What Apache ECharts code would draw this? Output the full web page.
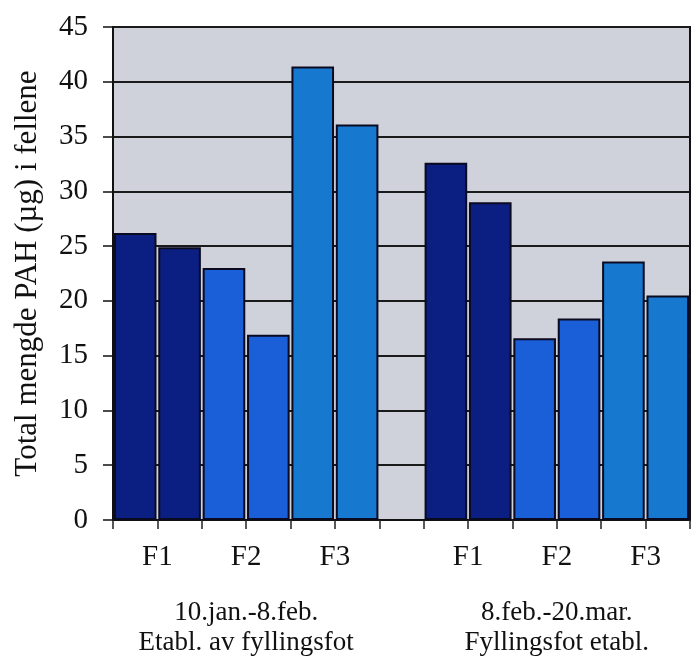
<!DOCTYPE html>
<html>
<head>
<meta charset="utf-8">
<script src="https://cdn.jsdelivr.net/npm/echarts@6/dist/echarts.min.js"></script>
<style>
html,body{margin:0;padding:0;background:#fff;}
#chart{width:693px;height:662px;}
</style>
</head>
<body>
<div id="chart"></div>
<script>
// Bar slots (13 slots; slot 6 is the empty gap between the two periods)
var slots = ['a1','a2','a3','a4','a5','a6','gap','b1','b2','b3','b4','b5','b6'];
var stations = ['F1','F1','F2','F2','F3','F3','','F1','F1','F2','F2','F3','F3'];
var values = [26.2, 24.9, 23.0, 16.9, 41.4, 36.1, null, 32.6, 29.0, 16.6, 18.4, 23.6, 20.5];
// Labels at slot boundaries (14 boundaries)
var stationLabels = ['', 'F1', '', 'F2', '', 'F3', '', '', 'F1', '', 'F2', '', 'F3', ''];
var periodLabels = ['', '', '', '10.jan.-8.feb.\nEtabl. av fyllingsfot', '', '', '', '', '', '', '8.feb.-20.mar.\nFyllingsfot etabl.', '', '', ''];
var yTicks = [0, 5, 10, 15, 20, 25, 30, 35, 40, 45];
var yTitle = 'Total mengde PAH (µg) i fellene';

var colorMap = { F1: '#0b1f82', F2: '#1a5ed8', F3: '#1679cf' };
var font = '"Liberation Serif","Times New Roman",serif';

var chart = echarts.init(document.getElementById('chart'));
chart.setOption({
  animation: false,
  backgroundColor: '#ffffff',
  grid: {
    left: 113, right: 1, top: 27, bottom: 142,
    show: true, backgroundColor: '#cfd2db', borderColor: '#111', borderWidth: 2
  },
  xAxis: [
    {
      type: 'category', data: slots, position: 'bottom',
      axisLine: { show: true, lineStyle: { color: '#111', width: 2 } },
      axisTick: { show: true, length: 9, interval: 0, lineStyle: { color: '#222', width: 1.5 } },
      axisLabel: { show: false },
      splitLine: { show: false }
    },
    {
      type: 'category', data: stationLabels, boundaryGap: false, position: 'bottom',
      axisLine: { show: false }, axisTick: { show: false }, splitLine: { show: false },
      axisLabel: { show: true, interval: 0, margin: 23, color: '#111', fontFamily: font, fontSize: 29 }
    },
    {
      type: 'category', data: periodLabels, boundaryGap: false, position: 'bottom',
      axisLine: { show: false }, axisTick: { show: false }, splitLine: { show: false },
      axisLabel: { show: true, interval: 0, margin: 78, color: '#111', fontFamily: font, fontSize: 27, lineHeight: 30, align: 'center' }
    }
  ],
  yAxis: {
    type: 'value', min: yTicks[0], max: yTicks[yTicks.length - 1], interval: 5,
    name: yTitle, nameLocation: 'middle', nameGap: 70,
    nameTextStyle: { fontFamily: font, fontSize: 31, color: '#111' },
    axisLine: { show: true, lineStyle: { color: '#111', width: 2 } },
    axisTick: { show: true, length: 10, lineStyle: { color: '#111', width: 1.5 } },
    axisLabel: { margin: 25, color: '#111', fontFamily: font, fontSize: 29 },
    splitLine: { show: true, lineStyle: { color: '#1a1a1a', width: 2 } }
  },
  series: [{
    type: 'bar', xAxisIndex: 0,
    barCategoryGap: '4%',
    data: values.map(function (v, i) {
      return { value: v, itemStyle: { color: colorMap[stations[i]] || '#000' } };
    }),
    itemStyle: { borderColor: '#0a0a20', borderWidth: 2 }
  }]
});
</script>
</body>
</html>
